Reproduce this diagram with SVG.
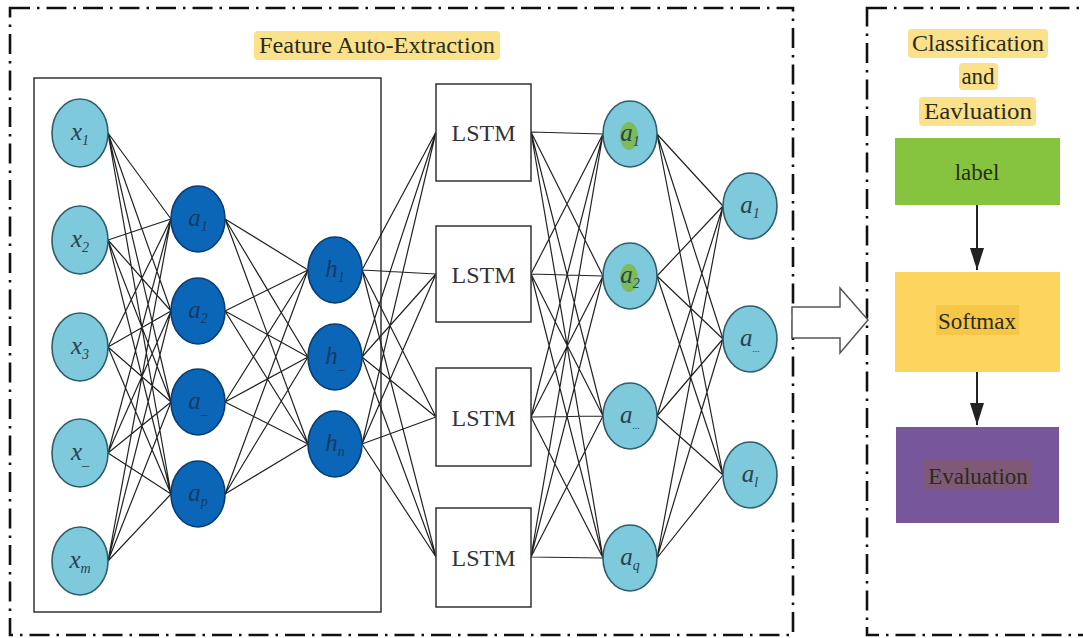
<svg xmlns="http://www.w3.org/2000/svg" width="1083" height="638" viewBox="0 0 1083 638">
<defs>
<style>
.frame{fill:none;stroke:#111;stroke-width:2.6;stroke-dasharray:20 7 2.5 7}
.inner{fill:none;stroke:#333;stroke-width:1.5}
.lb{fill:#7fc9dc;stroke:#2f5d6b;stroke-width:1.6}
.db{fill:#0b66b8;stroke:#0a3c70;stroke-width:1.6}
.lstm{fill:#fff;stroke:#333;stroke-width:1.5}
.w{fill:none;stroke:#222;stroke-width:1.2}
.t{font-family:"Liberation Serif",serif;fill:#333;font-size:24px;text-anchor:middle}
.m{font-family:"Liberation Serif",serif;font-style:italic;font-size:25px;fill:#2a4250;text-anchor:middle}
.md{font-family:"Liberation Serif",serif;font-style:italic;font-size:25px;fill:#163a66;text-anchor:middle}
.hl{fill:#fbe28a}
.tt{font-family:"Liberation Serif",serif;font-size:23px;fill:#2b2b1a;text-anchor:middle}
.arr{fill:none;stroke:#222;stroke-width:2}
</style>
<marker id="ah" markerUnits="userSpaceOnUse" markerWidth="22" markerHeight="14" viewBox="0 0 22 14" refX="22" refY="7" orient="auto">
<path d="M0 0L22 7L0 14Z" fill="#222"/>
</marker>
</defs>
<rect width="1083" height="638" fill="#fff"/>
<rect class="frame" x="10" y="8" width="783" height="627"/>
<rect class="frame" x="867" y="8" width="240" height="627"/>
<rect class="inner" x="34" y="78" width="347" height="534"/>

<g id="title1">
<rect class="hl" x="254" y="31" width="246" height="29" rx="4"/>
<text class="tt" x="377" y="53" textLength="236" lengthAdjust="spacingAndGlyphs">Feature Auto-Extraction</text>
</g>
<g id="title2">
<rect class="hl" x="908" y="29" width="140" height="29" rx="4"/>
<text class="tt" x="978" y="51" textLength="132" lengthAdjust="spacingAndGlyphs">Classification</text>
<rect class="hl" x="959" y="63" width="39" height="27" rx="4"/>
<text class="tt" x="978" y="84">and</text>
<rect class="hl" x="919" y="97" width="117" height="29" rx="4"/>
<text class="tt" x="978" y="119" textLength="108" lengthAdjust="spacingAndGlyphs">Eavluation</text>
</g>

<g id="connectors">
<path class="w" d="M108 133L171 219M108 133L171 311M108 133L171 402M108 133L171 494M108 240L171 219M108 240L171 311M108 240L171 402M108 240L171 494M108 347L171 219M108 347L171 311M108 347L171 402M108 347L171 494M108 453L171 219M108 453L171 311M108 453L171 402M108 453L171 494M108 561L171 219M108 561L171 311M108 561L171 402M108 561L171 494"/>
<path class="w" d="M225 219L308 270M225 219L308 357M225 219L308 444M225 311L308 270M225 311L308 357M225 311L308 444M225 402L308 270M225 402L308 357M225 402L308 444M225 494L308 270M225 494L308 357M225 494L308 444"/>
<path class="w" d="M362 270L436 132M362 270L436 274M362 270L436 417M362 270L436 557M362 357L436 132M362 357L436 274M362 357L436 417M362 357L436 557M362 444L436 132M362 444L436 274M362 444L436 417M362 444L436 557"/>
<path class="w" d="M531 132L603 134M531 132L603 276M531 132L603 416M531 132L603 558M531 274L603 134M531 274L603 276M531 274L603 416M531 274L603 558M531 417L603 134M531 417L603 276M531 417L603 416M531 417L603 558M531 557L603 134M531 557L603 276M531 557L603 416M531 557L603 558"/>
<path class="w" d="M657 134L723 206M657 134L723 339M657 134L723 475M657 276L723 206M657 276L723 339M657 276L723 475M657 416L723 206M657 416L723 339M657 416L723 475M657 558L723 206M657 558L723 339M657 558L723 475"/>
<polygon points="792,307 840,307 840,288 868,320 840,353 840,338 792,338" fill="#fff" stroke="#555" stroke-width="1.5"/>
<line class="arr" x1="977" y1="205" x2="977" y2="270" marker-end="url(#ah)"/>
<line class="arr" x1="977" y1="372" x2="977" y2="425" marker-end="url(#ah)"/>
</g>

<g id="x1"><ellipse class="lb" cx="80" cy="133" rx="28" ry="34"/><text class="m" x="80" y="140">x<tspan font-size="14" dy="5">1</tspan></text></g>
<g id="x2"><ellipse class="lb" cx="80" cy="240" rx="28" ry="34"/><text class="m" x="80" y="247">x<tspan font-size="14" dy="5">2</tspan></text></g>
<g id="x3"><ellipse class="lb" cx="80" cy="347" rx="28" ry="34"/><text class="m" x="80" y="354">x<tspan font-size="14" dy="5">3</tspan></text></g>
<g id="x4"><ellipse class="lb" cx="80" cy="453" rx="28" ry="34"/><text class="m" x="80" y="460">x<tspan font-size="14" dy="5">_</tspan></text></g>
<g id="xm"><ellipse class="lb" cx="80" cy="561" rx="28" ry="34"/><text class="m" x="80" y="568">x<tspan font-size="14" dy="5">m</tspan></text></g>

<g id="a1"><ellipse class="db" cx="198" cy="219" rx="27" ry="33"/><text class="md" x="198" y="226">a<tspan font-size="14" dy="5">1</tspan></text></g>
<g id="a2"><ellipse class="db" cx="198" cy="311" rx="27" ry="33"/><text class="md" x="198" y="318">a<tspan font-size="14" dy="5">2</tspan></text></g>
<g id="a3"><ellipse class="db" cx="198" cy="402" rx="27" ry="33"/><text class="md" x="198" y="409">a<tspan font-size="14" dy="5">_</tspan></text></g>
<g id="ap"><ellipse class="db" cx="198" cy="494" rx="27" ry="33"/><text class="md" x="198" y="501">a<tspan font-size="14" dy="5">p</tspan></text></g>

<g id="h1"><ellipse class="db" cx="335" cy="270" rx="27" ry="33"/><text class="md" x="335" y="277">h<tspan font-size="14" dy="5">1</tspan></text></g>
<g id="h2"><ellipse class="db" cx="335" cy="357" rx="27" ry="33"/><text class="md" x="335" y="364">h<tspan font-size="14" dy="5">_</tspan></text></g>
<g id="hn"><ellipse class="db" cx="335" cy="444" rx="27" ry="33"/><text class="md" x="335" y="451">h<tspan font-size="14" dy="5">n</tspan></text></g>

<g id="lstm1"><rect class="lstm" x="436" y="84" width="95" height="97"/><text class="t" x="483.5" y="141">LSTM</text></g>
<g id="lstm2"><rect class="lstm" x="436" y="226" width="95" height="96"/><text class="t" x="483.5" y="283">LSTM</text></g>
<g id="lstm3"><rect class="lstm" x="436" y="368" width="95" height="98"/><text class="t" x="483.5" y="426">LSTM</text></g>
<g id="lstm4"><rect class="lstm" x="436" y="508" width="95" height="99"/><text class="t" x="483.5" y="566">LSTM</text></g>

<g id="b1"><ellipse class="lb" cx="630" cy="134" rx="27" ry="33"/><ellipse cx="629" cy="136" rx="9" ry="14" fill="#7dba5a"/><text class="m" x="630" y="141">a<tspan font-size="14" dy="5">1</tspan></text></g>
<g id="b2"><ellipse class="lb" cx="630" cy="276" rx="27" ry="33"/><ellipse cx="629" cy="278" rx="9" ry="14" fill="#7dba5a"/><text class="m" x="630" y="283">a<tspan font-size="14" dy="5">2</tspan></text></g>
<g id="b3"><ellipse class="lb" cx="630" cy="416" rx="27" ry="33"/><text class="m" x="630" y="423">a<tspan font-size="10" dy="6">...</tspan></text></g>
<g id="bq"><ellipse class="lb" cx="630" cy="558" rx="27" ry="33"/><text class="m" x="630" y="565">a<tspan font-size="14" dy="5">q</tspan></text></g>

<g id="c1"><ellipse class="lb" cx="750" cy="206" rx="27" ry="33"/><text class="m" x="750" y="213">a<tspan font-size="14" dy="5">1</tspan></text></g>
<g id="c2"><ellipse class="lb" cx="750" cy="339" rx="27" ry="33"/><text class="m" x="750" y="346">a<tspan font-size="10" dy="6">...</tspan></text></g>
<g id="cl"><ellipse class="lb" cx="750" cy="475" rx="27" ry="33"/><text class="m" x="750" y="482">a<tspan font-size="14" dy="5">l</tspan></text></g>

<g id="label"><rect x="895" y="138" width="165" height="67" fill="#86c440"/><text class="tt" x="977" y="180" fill="#223">label</text></g>
<g id="softmax"><rect x="895" y="272" width="165" height="100" fill="#fdd55e"/><rect x="936" y="305" width="83" height="30" fill="#f6c648"/><text class="tt" x="977" y="329">Softmax</text></g>
<g id="evaluation"><rect x="896" y="427" width="163" height="96" fill="#77569c"/><rect x="924" y="460" width="108" height="30" fill="#7e5a78"/><text class="tt" x="978" y="484" fill="#2a1a2a">Evaluation</text></g>
</svg>
